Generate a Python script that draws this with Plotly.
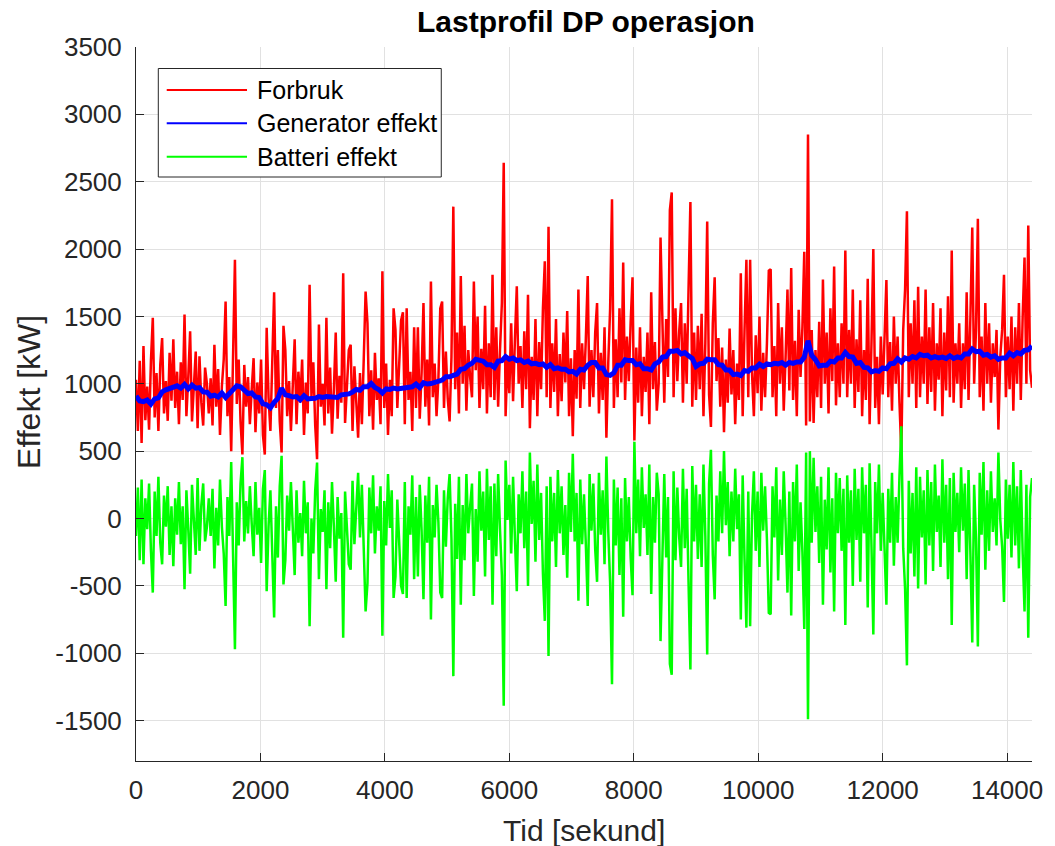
import plotly.graph_objects as go

# ---- data (sampling: 30 s for Forbruk/Batteri, 60 s for Generator) ----
forbruk = [
    1030, 650, 1170, 560, 1280, 730, 980, 660, 1170, 1490, 750, 1080, 650, 1140, 1340, 780, 1020, 725, 1230, 875,
    1330, 820, 1090, 700, 1160, 880, 1515, 760, 1050, 1390, 720, 940, 1240, 670, 1205, 860, 690, 1120, 1000, 780,
    1040, 690, 1290, 830, 1110, 620, 980, 1180, 1610, 760, 1050, 500, 1300, 1920, 850, 1180, 720, 475, 1140, 830,
    1050, 700, 960, 1190, 640, 1010, 780, 1180, 620, 475, 1415, 900, 650, 1120, 1680, 820, 1250, 720, 490, 1430,
    1250, 760, 1020, 650, 980, 1330, 700, 1090, 860, 1180, 620, 1010, 780, 1735, 900, 1160, 690, 440, 1440, 830,
    1000, 690, 1490, 780, 1120, 630, 960, 1380, 740, 1060, 860, 1820, 710, 1000, 1250, 1290, 650, 1130, 830, 600,
    1080, 700, 1180, 1685, 1450, 760, 1100, 660, 1230, 880, 1040, 700, 1835, 820, 1150, 620, 1030, 760, 1560, 1400,
    820, 1100, 1470, 1530, 700, 1560, 880, 1090, 650, 1420, 820, 1420, 740, 1080, 1600, 830, 1180, 690, 1760, 900,
    1150, 760, 1040, 1560, 1610, 820, 1240, 890, 720, 1200, 2315, 960, 1380, 780, 1800, 1000, 1430, 800, 1250, 1050,
    900, 1760, 1100, 1500, 820, 1260, 960, 1580, 780, 1300, 900, 1810, 880, 1420, 830, 1250, 1600, 2640, 760, 1200,
    930, 1450, 870, 1330, 1724, 1000, 1280, 820, 1390, 960, 1660, 670, 1200, 880, 1480, 760, 1310, 960, 1560, 1910,
    900, 2165, 820, 1300, 940, 1480, 760, 1220, 870, 1380, 1010, 1540, 760, 1190, 610, 1250, 890, 1700, 820, 1300,
    960, 1340, 1800, 830, 1250, 900, 1380, 1600, 780, 1230, 880, 1420, 600, 1160, 1560, 2370, 820, 1330, 900, 1560,
    1010, 1900, 880, 1350, 1020, 1460, 1790, 580, 1270, 860, 1420, 760, 1200, 940, 1380, 700, 1680, 960, 1310, 800,
    1000, 2085, 1350, 860, 1480, 1050, 2290, 2420, 900, 1560, 1020, 1390, 1600, 860, 1450, 1000, 1700, 2350, 830, 1380,
    880, 1430, 960, 1520, 760, 1300, 2205, 920, 680, 1450, 1790, 1020, 1340, 830, 1270, 640, 1180, 860, 1410, 920,
    1250, 700, 1150, 880, 1820, 760, 1400, 1920, 900, 1920, 1080, 760, 1360, 930, 1500, 800, 1230, 900, 1300, 1840,
    1850, 900, 1280, 760, 1600, 1000, 1420, 800, 1200, 1700, 950, 1860, 880, 1320, 760, 1550, 1050, 1420, 1980, 690,
    2850, 720, 1400, 710, 1250, 900, 1460, 820, 1774, 1000, 1380, 780, 1560, 1020, 1870, 840, 1300, 900, 1450, 1000,
    1990, 900, 1400, 1000, 1700, 820, 1330, 940, 1620, 760, 1250, 880, 1780, 700, 1300, 2000, 820, 1200, 700, 1350,
    920, 1420, 1770, 900, 1310, 800, 1500, 1000, 1350, 860, 490, 1400, 1700, 2280, 900, 1450, 1000, 1620, 820, 1720,
    900, 1350, 1000, 1700, 850, 1420, 940, 1600, 800, 1300, 1030, 1560, 760, 1380, 950, 1650, 900, 1990, 860, 1300,
    1000, 1450, 820, 1300, 960, 1680, 880, 1500, 2160, 1000, 1400, 2225, 900, 1350, 800, 1600, 1000, 1450, 860, 1300,
    1050, 1400, 660, 1200, 1400, 1810, 900, 1350, 960, 1500, 800, 1420, 1000, 1600, 880, 1500, 1937, 1000, 2175, 1100, 970,
]

generator = [
    910, 872, 868, 880, 850, 888, 895, 940, 955, 962,
    972, 985, 968, 995, 962, 990, 968, 972, 940, 938,
    908, 915, 902, 932, 898, 930, 948, 985, 978, 958,
    928, 932, 902, 898, 852, 845, 822, 862, 892, 968,
    918, 912, 902, 905, 882, 912, 888, 890, 892, 905,
    898, 905, 902, 898, 898, 918, 918, 925, 938, 958,
    952, 978, 978, 1002, 972, 958, 932, 962, 958, 968,
    962, 968, 968, 975, 978, 998, 972, 1008, 998, 1002,
    1012, 1025, 1028, 1052, 1052, 1062, 1072, 1108, 1112, 1138,
    1152, 1182, 1172, 1168, 1142, 1142, 1122, 1168, 1172, 1202,
    1182, 1192, 1172, 1178, 1158, 1168, 1148, 1152, 1142, 1148,
    1122, 1142, 1112, 1118, 1108, 1108, 1088, 1092, 1072, 1108,
    1102, 1138, 1158, 1158, 1118, 1118, 1068, 1062, 1082, 1138,
    1138, 1178, 1172, 1172, 1142, 1148, 1112, 1112, 1102, 1148,
    1162, 1198, 1202, 1242, 1242, 1248, 1222, 1232, 1208, 1188,
    1128, 1148, 1152, 1182, 1178, 1178, 1142, 1138, 1102, 1102,
    1068, 1072, 1062, 1098, 1092, 1118, 1118, 1145, 1128, 1148,
    1142, 1152, 1148, 1158, 1138, 1158, 1152, 1162, 1162, 1198,
    1320, 1212, 1178, 1132, 1138, 1138, 1168, 1162, 1192, 1192,
    1232, 1202, 1198, 1152, 1158, 1122, 1118, 1088, 1098, 1092,
    1118, 1112, 1148, 1152, 1185, 1162, 1192, 1182, 1202, 1192,
    1218, 1208, 1212, 1192, 1202, 1192, 1198, 1188, 1208, 1188,
    1200, 1192, 1222, 1222, 1258, 1238, 1242, 1212, 1218, 1198,
    1208, 1182, 1192, 1192, 1228, 1208, 1232, 1222, 1248, 1252, 1280,
]

batteri = [
    -130, 230, -310, 290, -340, 150, -80, 260, -240, -550, 200, -130, 310, -180, -340, 170, -60, 240, -270, 90,
    -355, 150, -120, 270, -190, 90, -525, 210, -80, -410, 250, 30, -270, 300, -240, 100, 260, -170, -60, 150,
    -130, 220, -370, 80, -200, 290, -60, -260, -650, 160, -130, 420, -330, -970, 120, -200, 260, 455, -170, 130,
    -110, 240, -40, -280, 270, -120, 80, -330, 220, 360, -540, -60, 210, -250, -735, 90, -290, 240, 465, -490,
    -310, 170, -90, 270, -70, -420, 210, -180, 40, -280, 280, -110, 120, -800, 0, -260, 210, 415, -450, 70,
    -100, 210, -525, 120, -220, 270, -60, -470, 160, -150, 40, -885, 200, -90, -340, -380, 280, -190, 110, 340,
    -140, 250, -220, -690, -480, 230, -110, 320, -260, 90, -90, 240, -870, 130, -200, 330, -70, 210, -590, -430,
    140, -130, -500, -560, 270, -590, 90, -120, 320, -450, 160, -430, 250, -90, -600, 170, -180, 310, -750, 100,
    -140, 250, -30, -550, -590, 210, -210, 150, 330, -150, -1170, 110, -300, 310, -640, 100, -310, 330, -110, 90,
    260, -575, 70, -320, 350, -90, 200, -430, 370, -160, 240, -640, 260, -280, 330, -80, -420, -1390, 430, -10,
    250, -260, 310, -150, -540, 180, -110, 350, -220, 200, -500, 490, -40, 280, -320, 400, -160, 190, -410, -760,
    240, -1020, 310, -170, 190, -360, 360, -110, 240, -270, 100, -440, 340, -100, 480, -170, 190, -610, 290, -190,
    180, -200, -650, 330, -90, 260, -230, -470, 340, -120, 210, -340, 460, -100, -480, -1230, 290, -200, 230, -420,
    150, -730, 300, -170, 160, -290, -570, 570, -110, 290, -280, 380, -70, 180, -270, 400, -560, 160, -180, 340,
    180, -910, -170, 330, -290, 160, -1080, -1160, 350, -310, 230, -140, -360, 370, -220, 220, -470, -1120, 390, -170,
    250, -300, 180, -360, 400, -130, -1010, 260, 510, -270, -600, 170, -170, 350, -110, 500, -50, 270, -280, 200,
    -170, 370, -80, 180, -750, 320, -300, -810, 200, -800, 20, 350, -240, 200, -360, 340, -90, 240, -160, -700,
    -710, 240, -140, 380, -460, 140, -270, 350, -50, -550, 200, -720, 270, -170, 400, -390, 120, -250, -820, 490,
    -1490, 500, -180, 450, -100, 240, -330, 310, -640, 140, -230, 380, -400, 150, -690, 340, -110, 300, -240, 220,
    -790, 320, -180, 210, -500, 370, -160, 220, -470, 380, -110, 250, -660, 410, -200, -860, 270, -110, 400, -240,
    190, -300, -640, 220, -180, 340, -350, 160, -180, 320, 685, -220, -520, -1090, 280, -260, 190, -430, 380, -520,
    310, -140, 210, -490, 360, -200, 270, -390, 400, -100, 170, -360, 440, -180, 250, -450, 300, -790, 340, -100,
    190, -250, 380, -90, 260, -450, 360, -260, -920, 250, -150, -950, 340, -120, 420, -380, 210, -240, 350, -100,
    150, -200, 490, -10, -210, -620, 290, -150, 250, -290, 420, -200, 240, -370, 360, -260, -690, 250, -885, 160, 300,
]

tid_forbruk = [30 * i for i in range(len(forbruk))]
tid_generator = [60 * i for i in range(len(generator))]
tid_batteri = [30 * i for i in range(len(batteri))]

x_ticks = [0, 2000, 4000, 6000, 8000, 10000, 12000, 14000]
y_ticks = [-1500, -1000, -500, 0, 500, 1000, 1500, 2000, 2500, 3000, 3500]

series_names = ["Forbruk", "Generator effekt", "Batteri effekt"]
series_colors = ["#ff0000", "#0000ff", "#00ff00"]

FONT = "Liberation Sans, Arial, Helvetica, sans-serif"
AX = "#262626"

fig = go.Figure()
fig.add_trace(go.Scatter(x=tid_forbruk, y=forbruk, mode="lines", name=series_names[0],
                         line=dict(color=series_colors[0], width=2.5)))
fig.add_trace(go.Scatter(x=tid_generator, y=generator, mode="lines", name=series_names[1],
                         line=dict(color=series_colors[1], width=5)))
fig.add_trace(go.Scatter(x=tid_batteri, y=batteri, mode="lines", name=series_names[2],
                         line=dict(color=series_colors[2], width=2.5)))

# plot area in pixels: left 136, right 1040, top 47, bottom 761
L, R, T, B = 136, 1040, 47, 761
W, H = R - L, B - T
def px(x):
    return (x - L) / W
def py(y):
    return (B - y) / H

fig.update_layout(
    width=1055, height=846,
    margin=dict(l=L, r=1055 - R, t=T, b=846 - B, pad=0),
    paper_bgcolor="white", plot_bgcolor="white",
    showlegend=False,
    font=dict(family=FONT, color=AX),
)
fig.update_xaxes(
    range=[0, 14400], tickvals=x_ticks, ticktext=[str(v) for v in x_ticks],
    ticks="inside", ticklen=8, tickwidth=1, tickcolor=AX,
    showline=True, linecolor=AX, linewidth=1,
    showgrid=True, gridcolor="#e1e1e1", gridwidth=1, zeroline=False,
    tickfont=dict(family=FONT, size=26, color=AX), ticklabelstandoff=6,
)
fig.update_yaxes(
    range=[-1800, 3500], tickvals=y_ticks, ticktext=[str(v) for v in y_ticks],
    ticks="inside", ticklen=8, tickwidth=1, tickcolor=AX,
    showline=True, linecolor=AX, linewidth=1,
    showgrid=True, gridcolor="#e1e1e1", gridwidth=1, zeroline=False,
    tickfont=dict(family=FONT, size=26, color=AX), ticklabelstandoff=8,
)

annotations = [
    dict(text="<b>Lastprofil DP operasjon</b>", x=px(590), y=py(22), xref="paper", yref="paper",
         xanchor="center", yanchor="middle", showarrow=False,
         font=dict(family=FONT, size=30, color="#000000")),
    dict(text="Tid [sekund]", x=px(588.5), y=py(830), xref="paper", yref="paper",
         xanchor="center", yanchor="middle", showarrow=False,
         font=dict(family=FONT, size=30, color=AX)),
    dict(text="Effekt [kW]", x=px(28), y=py(392), xref="paper", yref="paper",
         xanchor="center", yanchor="middle", showarrow=False, textangle=-90,
         font=dict(family=FONT, size=32, color=AX)),
]
shapes = [
    dict(type="rect", xref="paper", yref="paper", x0=px(158.5), x1=px(444), y0=py(177), y1=py(68.5),
         line=dict(color="#262626", width=1), fillcolor="white", layer="above"),
]
legend_rows = [90, 123.3, 156.7]
for name, color, yy in zip(series_names, series_colors, legend_rows):
    shapes.append(dict(type="line", xref="paper", yref="paper", x0=px(167), x1=px(248), y0=py(yy), y1=py(yy),
                       line=dict(color=color, width=2), layer="above"))
    annotations.append(dict(text=name, x=px(256), y=py(yy), xref="paper", yref="paper",
                            xanchor="left", yanchor="middle", showarrow=False,
                            font=dict(family=FONT, size=25, color="#000000")))
fig.update_layout(annotations=annotations, shapes=shapes)

fig.write_html("out.html", config={"displayModeBar": False})
